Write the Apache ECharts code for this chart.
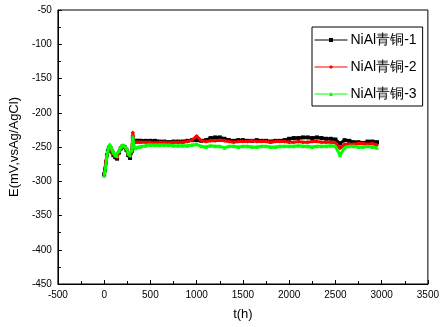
<!DOCTYPE html>
<html><head><meta charset="utf-8">
<script src="https://cdn.jsdelivr.net/npm/echarts@6/dist/echarts.min.js"></script>
<style>html,body{margin:0;padding:0;background:#fff}#c{width:442px;height:327px}</style>
</head><body><div id="c"></div>
<script>
const seriesNames = ['NiAl青铜-1', 'NiAl青铜-2', 'NiAl青铜-3'];
const xTicks = [-500, 0, 500, 1000, 1500, 2000, 2500, 3000, 3500];
const yTicks = [-450, -400, -350, -300, -250, -200, -150, -100, -50];
const times = [0,10,20,30,40,50,60,70,80,90,100,120,140,160,180,200,220,240,260,280,300,310,320,340,360,380,400,
  450,500,550,600,650,700,750,800,850,900,950,1000,1050,1100,1150,1200,1250,1300,1350,1400,1450,1500,1550,1600,
  1650,1700,1750,1800,1850,1900,1950,2000,2050,2100,2150,2200,2250,2300,2350,2400,2450,2500,2550,2600,2650,2700,
  2750,2800,2850,2900,2950];
const s1 = [-290,-283,-272,-262,-256,-252,-250,-252,-256,-258,-262,-265,-267,-258,-252,-249,-250,-254,-262,-266,-256,-236,-242,-241,-241,-241,-241,
  -241,-241,-241,-242,-242,-243,-242,-242,-242,-241,-240,-240,-241,-240,-237,-236,-236,-238,-240,-241,-240,-240,-241,-241,
  -240,-241,-241,-242,-241,-241,-240,-238,-237,-237,-236,-236,-237,-236,-237,-238,-238,-239,-245,-240,-241,-243,
  -243,-244,-242,-242,-243];
const s2 = [-288,-280,-270,-262,-257,-252,-249,-251,-255,-257,-261,-263,-265,-257,-251,-248,-249,-253,-260,-263,-254,-229,-243,-243,-243,-243,-243,
  -243,-243,-244,-243,-243,-244,-243,-243,-243,-242,-240,-234,-241,-242,-241,-241,-240,-241,-242,-243,-242,-242,-242,-241,
  -242,-242,-242,-243,-242,-242,-242,-243,-243,-242,-243,-243,-242,-242,-243,-243,-243,-244,-252,-246,-246,-246,
  -245,-245,-246,-245,-247];
const s3 = [-292,-285,-275,-262,-255,-250,-246,-248,-252,-255,-258,-262,-263,-256,-250,-247,-248,-252,-260,-262,-255,-235,-248,-252,-250,-250,-249,
  -248,-247,-247,-247,-247,-247,-248,-248,-248,-248,-247,-246,-249,-250,-248,-249,-249,-251,-249,-249,-250,-249,-249,-250,
  -250,-249,-249,-250,-250,-249,-249,-249,-249,-248,-249,-249,-250,-249,-249,-249,-248,-249,-262,-251,-249,-249,
  -250,-250,-249,-250,-251];

const colors = ['#000000', '#ff0000', '#00ff00'];
const symbols = ['rect', 'diamond', 'triangle'];
const data = [s1, s2, s3];
const chart = echarts.init(document.getElementById('c'));
const font = 'Liberation Sans, Arial, sans-serif';
chart.setOption({
  animation: false,
  grid: {left: 56, right: 14, top: 10, bottom: 43, show: true, borderColor: '#000', borderWidth: 1},
  legend: {
    orient: 'vertical', left: 312, top: 27, width: 111,
    padding: [6, 6, 5, 2], itemGap: 13, itemWidth: 33, itemHeight: 5,
    borderColor: '#000', borderWidth: 1, backgroundColor: '#fff',
    lineStyle: {width: 1},
    textStyle: {fontFamily: font, fontSize: 14, color: '#000', padding: [0, 0, 0, -2]},
    data: seriesNames
  },
  xAxis: {
    type: 'value', min: xTicks[0], max: xTicks[xTicks.length - 1], interval: 500,
    name: 't(h)', nameLocation: 'middle', nameGap: 24,
    nameTextStyle: {fontFamily: font, fontSize: 13, color: '#000'},
    axisLine: {onZero: false, lineStyle: {color: '#000', width: 1}},
    axisTick: {inside: true, length: 4, lineStyle: {color: '#000'}},
    minorTick: {show: true, splitNumber: 2, length: 3, lineStyle: {color: '#000'}},
    axisLabel: {fontFamily: font, fontSize: 10, color: '#000', margin: 6, formatter: v => String(v)},
    splitLine: {show: false}
  },
  yAxis: {
    type: 'value', min: yTicks[0], max: yTicks[yTicks.length - 1], interval: 50,
    name: 'E(mV,vsAg/AgCl)', nameLocation: 'middle', nameGap: 34,
    nameTextStyle: {fontFamily: font, fontSize: 13, color: '#000'},
    axisLine: {show: true, onZero: false, lineStyle: {color: '#000', width: 1}},
    axisTick: {show: true, inside: true, length: 4, lineStyle: {color: '#000'}},
    minorTick: {show: true, splitNumber: 2, length: 3, lineStyle: {color: '#000'}},
    axisLabel: {fontFamily: font, fontSize: 10, color: '#000', margin: 6, formatter: v => String(v)},
    splitLine: {show: false}
  },
  series: data.map((d, i) => ({
    name: seriesNames[i], type: 'line',
    data: times.map((t, j) => [t, d[j]]),
    symbol: symbols[i], symbolSize: 4, showSymbol: true,
    itemStyle: {color: colors[i]},
    lineStyle: {color: colors[i], width: 3},
    z: 2 + i
  }))
});
</script></body></html>
